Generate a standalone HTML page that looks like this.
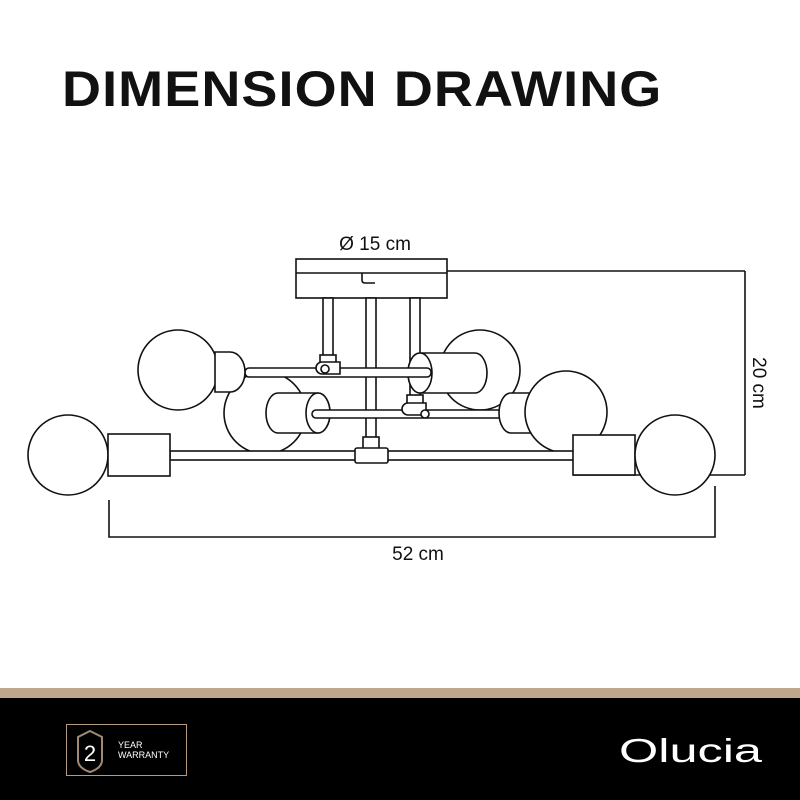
<!DOCTYPE html>
<html><head><style>
body{margin:0;width:800px;height:800px;background:#fff;overflow:hidden;position:relative;font-family:"Liberation Sans",sans-serif}
.title{position:absolute;left:62px;top:60px;font-size:50px;font-weight:bold;letter-spacing:1px;color:#111;transform:scaleX(1.08);transform-origin:left top;white-space:nowrap}
</style></head><body>
<div class="title">DIMENSION DRAWING</div>
<svg width="800" height="800" style="position:absolute;left:0;top:0" xmlns="http://www.w3.org/2000/svg">
<g fill="#fff" stroke="#111" stroke-width="1.6">
<line x1="447" y1="271" x2="745" y2="271"/>
<line x1="745" y1="271" x2="745" y2="475"/>
<line x1="573" y1="475" x2="745" y2="475"/>
<polyline fill="none" points="109,500 109,537 715,537 715,486"/>
<rect x="296" y="259" width="151" height="39"/>
<line x1="296" y1="273" x2="447" y2="273"/>
<path d="M362 273 v7 q0 3 3 3 h10" fill="none"/>
<rect x="323" y="298" width="10" height="62"/>
<rect x="366" y="298" width="10" height="142"/>
<rect x="410" y="298" width="10" height="102"/>
<circle cx="480" cy="370" r="40"/>
<path d="M420 353 h55 a12 20 0 0 1 0 40 h-55 a12 20 0 0 1 0 -40z"/>
<ellipse cx="420" cy="373" rx="12" ry="20"/>
<circle cx="265" cy="413" r="41"/>
<path d="M278 393 h40 a12 20 0 0 1 0 40 h-40 a12 20 0 0 1 0 -40z"/>
<ellipse cx="318" cy="413" rx="12" ry="20"/>
<rect x="245" y="368" width="186" height="9" rx="4"/>
<circle cx="178" cy="370" r="40"/>
<path d="M215 352 h15 a15 20 0 0 1 0 40 h-15z"/>
<rect x="320" y="355" width="16" height="10"/>
<path d="M322 362 h18 v12 h-18 a6 6 0 0 1 0 -12z"/>
<circle cx="325" cy="369" r="4"/>
<rect x="312" y="410" width="190" height="8" rx="4"/>
<rect x="407" y="395" width="16" height="10"/>
<path d="M408 403 h18 v12 h-18 a6 6 0 0 1 0 -12z"/>
<circle cx="425" cy="414" r="4"/>
<path d="M531 393 h-20 a12 20 0 0 0 0 40 h20z"/>
<circle cx="566" cy="412" r="41"/>
<rect x="170" y="451" width="404" height="9"/>
<rect x="363" y="437" width="16" height="12"/>
<rect x="355" y="448" width="33" height="15" rx="2"/>
<circle cx="68" cy="455" r="40"/>
<rect x="108" y="434" width="62" height="42"/>
<rect x="573" y="435" width="62" height="40"/>
<circle cx="675" cy="455" r="40"/>
</g>
<g font-family="Liberation Sans, sans-serif" font-size="19" fill="#111">
<text x="375" y="250" text-anchor="middle">Ø 15 cm</text>
<text x="418" y="560" text-anchor="middle">52 cm</text>
<text transform="translate(753,383) rotate(90)" text-anchor="middle">20 cm</text>
</g>
<rect x="0" y="688" width="800" height="10" fill="#c0a68c"/>
<rect x="0" y="698" width="800" height="102" fill="#000"/>
<rect x="66.5" y="724.5" width="120" height="51" fill="none" stroke="#b59a7e" stroke-width="1"/>
<path d="M90 731 l12 6 v23 q0 8 -12 12 q-12 -4 -12 -12 v-23z" fill="none" stroke="#a08a74" stroke-width="2"/>
<text x="90" y="761" fill="#fff" font-size="22" text-anchor="middle" font-family="Liberation Sans, sans-serif">2</text>
<text x="118" y="748" fill="#fff" font-size="9" font-family="Liberation Sans, sans-serif">YEAR</text>
<text x="118" y="758" fill="#fff" font-size="9" font-family="Liberation Sans, sans-serif">WARRANTY</text>
<text x="619" y="762" fill="#fff" font-size="33" textLength="143" lengthAdjust="spacingAndGlyphs" font-family="Liberation Sans, sans-serif">Olucia</text>
</svg>
</body></html>
